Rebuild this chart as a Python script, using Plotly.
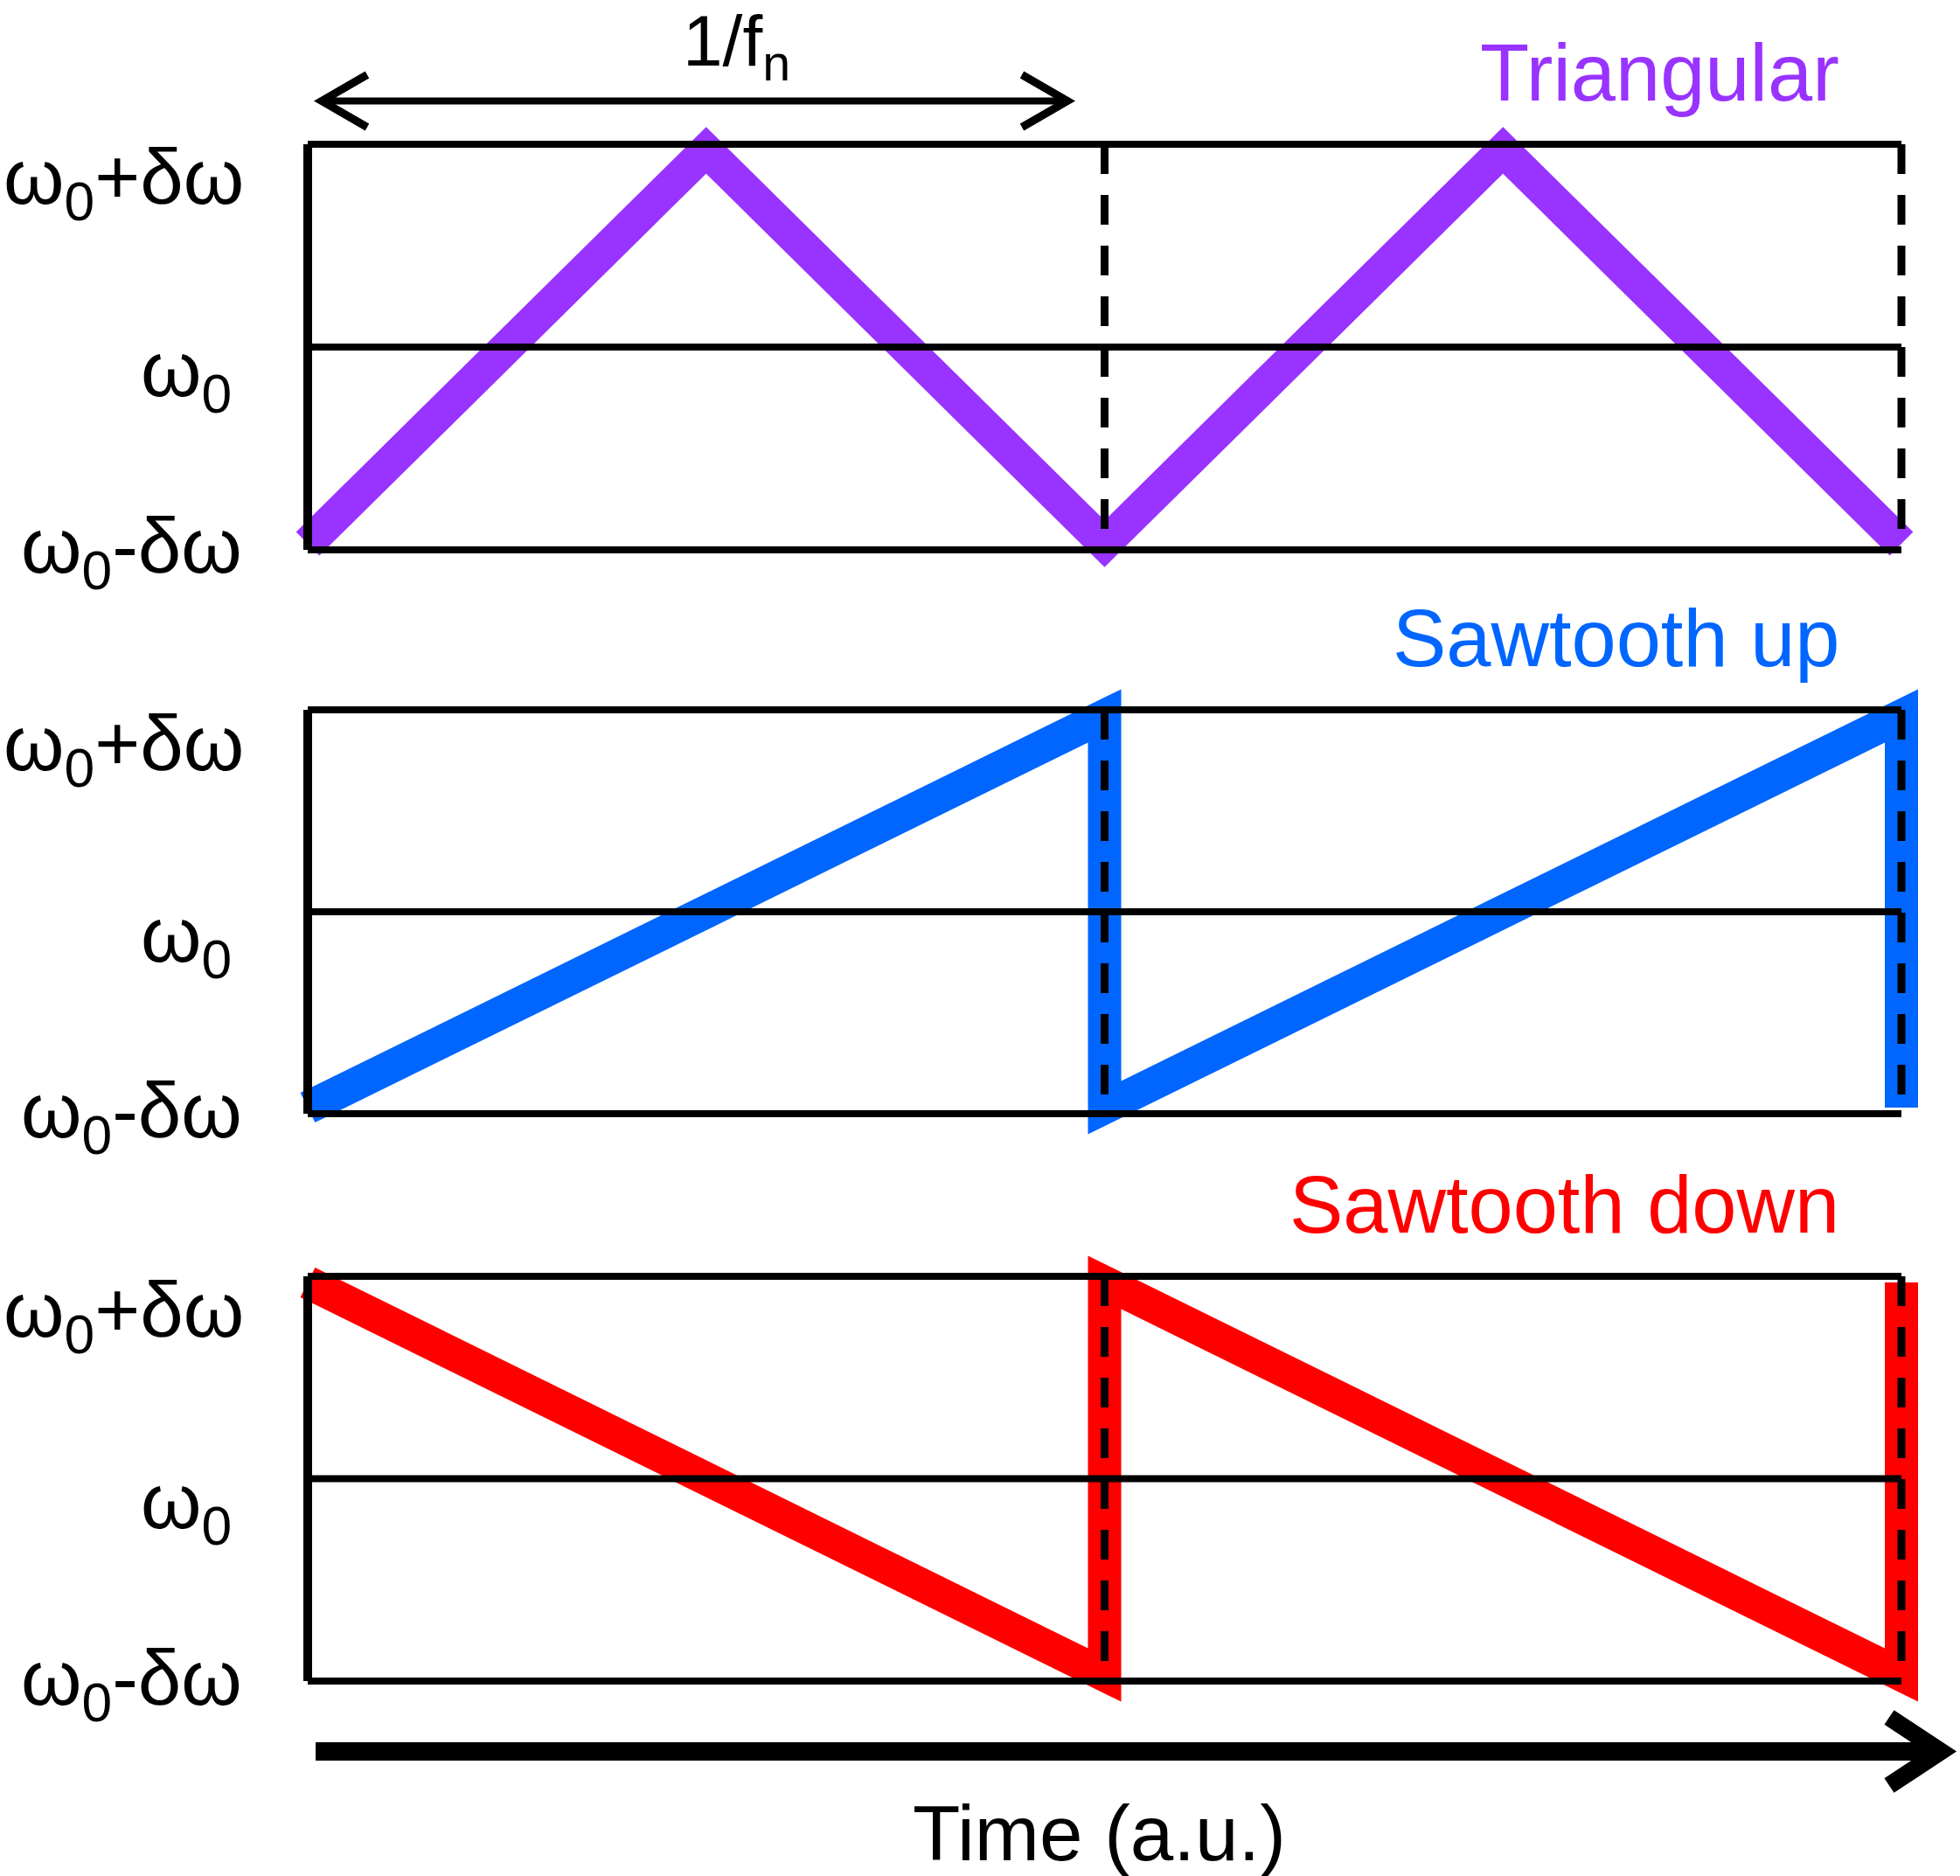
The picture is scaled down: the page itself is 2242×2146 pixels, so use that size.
import plotly.graph_objects as go

# ---------------- data ----------------
LEVELS = [-1, 0, 1]
LEVEL_LABELS = ["ω<sub>0</sub>-δω", "ω<sub>0</sub>", "ω<sub>0</sub>+δω"]
PERIOD_MARKS = [1, 2]           # multiples of 1/f_n (dashed lines)

TIME_TRI = [0, 0.5, 1, 1.5, 2]
FREQ_TRI = [-0.97, 0.97, -0.97, 0.97, -0.97]

TIME_UP = [0, 1, 1, 2, 2]
FREQ_UP = [-0.97, 0.97, -0.97, 0.97, -0.97]

TIME_DOWN = [0, 1, 1, 2, 2]
FREQ_DOWN = [0.97, -0.97, 0.97, -0.97, 0.97]

NAMES = ["Triangular", "Sawtooth up", "Sawtooth down"]
COLORS = ["#9933FF", "#0066FF", "#FF0000"]
SERIES = [(TIME_TRI, FREQ_TRI), (TIME_UP, FREQ_UP), (TIME_DOWN, FREQ_DOWN)]

# ---------------- layout geometry (pixels) ----------------
W, H = 2242, 2146
X0PX, X2PX = 352, 2175
PANEL_TOP = [165, 812, 1460]
PANEL_BOT = [629, 1274, 1923]
FONT = "Liberation Sans, Arial, sans-serif"


def pxx(p):
    return p / W


def pxy(p):
    return 1 - p / H


k = (X2PX - X0PX) / 2.0
xrange_ = [-X0PX / k, (W - X0PX) / k]
YR = 1.25

LABEL_YSHIFT = {-1: -2, 0: -32, 1: -44}
LABEL_XSHIFT = {-1: 0, 0: -12, 1: 2}

fig = go.Figure()
shapes = []
annotations = []
layout = {}

for i, ((t, f), name, col) in enumerate(zip(SERIES, NAMES, COLORS)):
    n = "" if i == 0 else str(i + 1)
    xa, ya = "x" + n, "y" + n
    top, bot = PANEL_TOP[i], PANEL_BOT[i]
    c = (top + bot) / 2.0
    h = (bot - top) / 2.0
    dom = [pxy(c + YR * h), pxy(c - YR * h)]
    layout["xaxis" + n] = dict(range=xrange_, domain=[0, 1], visible=False,
                               anchor=ya, fixedrange=True)
    layout["yaxis" + n] = dict(range=[-YR, YR], domain=dom, visible=False,
                               anchor=xa, fixedrange=True)

    fig.add_trace(go.Scatter(x=t, y=f, mode="lines", xaxis=xa, yaxis=ya,
                             line=dict(color=col, width=38),
                             showlegend=False, hoverinfo="skip"))

    tmin, tmax = min(t), max(PERIOD_MARKS)
    # horizontal level lines
    for lv in LEVELS:
        shapes.append(dict(type="line", xref=xa, yref=ya, x0=tmin, x1=tmax,
                           y0=lv, y1=lv, line=dict(color="black", width=8)))
    # left border
    shapes.append(dict(type="line", xref=xa, yref=ya, x0=tmin, x1=tmin,
                       y0=min(LEVELS), y1=max(LEVELS),
                       line=dict(color="black", width=10)))
    # dashed period lines
    for pm in PERIOD_MARKS:
        shapes.append(dict(type="line", xref=xa, yref=ya, x0=pm, x1=pm,
                           y0=max(LEVELS), y1=min(LEVELS),
                           line=dict(color="black", width=9, dash="34px,24px")))

    # level labels
    for lv, lab in zip(LEVELS, LEVEL_LABELS):
        annotations.append(dict(text=lab, xref="paper", yref=ya,
                                x=pxx(279), y=lv, xanchor="right", yanchor="middle",
                                xshift=LABEL_XSHIFT[lv], yshift=LABEL_YSHIFT[lv],
                                showarrow=False,
                                font=dict(family=FONT, size=89, color="black")))

    # panel title
    annotations.append(dict(text=name, xref="paper", yref="paper",
                            x=pxx(2106), y=pxy(top - 50 - 32),
                            xanchor="right", yanchor="middle", showarrow=False,
                            font=dict(family=FONT, size=92, color=col)))

# period arrow (top)
ya_arrow = 115.5
lt, rt = 368, 1221
shapes.append(dict(type="line", xref="paper", yref="paper",
                   x0=pxx(lt), x1=pxx(rt), y0=pxy(ya_arrow), y1=pxy(ya_arrow),
                   line=dict(color="black", width=8)))
shapes.append(dict(type="path", xref="paper", yref="paper",
                   path=f"M {pxx(lt+52)},{pxy(ya_arrow-30)} L {pxx(lt)},{pxy(ya_arrow)} L {pxx(lt+52)},{pxy(ya_arrow+30)}",
                   line=dict(color="black", width=9)))
shapes.append(dict(type="path", xref="paper", yref="paper",
                   path=f"M {pxx(rt-52)},{pxy(ya_arrow-30)} L {pxx(rt)},{pxy(ya_arrow)} L {pxx(rt-52)},{pxy(ya_arrow+30)}",
                   line=dict(color="black", width=9)))
annotations.append(dict(text="1/f<sub>n</sub>", xref="paper", yref="paper",
                        x=pxx(843), y=pxy(0), xanchor="center", yanchor="top",
                        borderpad=0, showarrow=False,
                        font=dict(family=FONT, size=82, color="black")))

# time arrow (bottom)
yt = 2003.5
shapes.append(dict(type="line", xref="paper", yref="paper",
                   x0=pxx(361), x1=pxx(2222), y0=pxy(yt), y1=pxy(yt),
                   line=dict(color="black", width=21)))
shapes.append(dict(type="path", xref="paper", yref="paper",
                   path=f"M {pxx(2161)},{pxy(yt-39)} L {pxx(2220)},{pxy(yt)} L {pxx(2161)},{pxy(yt+39)}",
                   line=dict(color="black", width=20)))
annotations.append(dict(text="Time (a.u.)", xref="paper", yref="paper",
                        x=pxx(1257), y=pxy(2097), xanchor="center", yanchor="middle",
                        showarrow=False, font=dict(family=FONT, size=89, color="black")))

fig.update_layout(width=W, height=H, margin=dict(l=0, r=0, t=0, b=0, pad=0),
                  paper_bgcolor="white", plot_bgcolor="rgba(0,0,0,0)",
                  shapes=shapes, annotations=annotations, **layout)

fig.write_html("out.html", config={"displayModeBar": False})
